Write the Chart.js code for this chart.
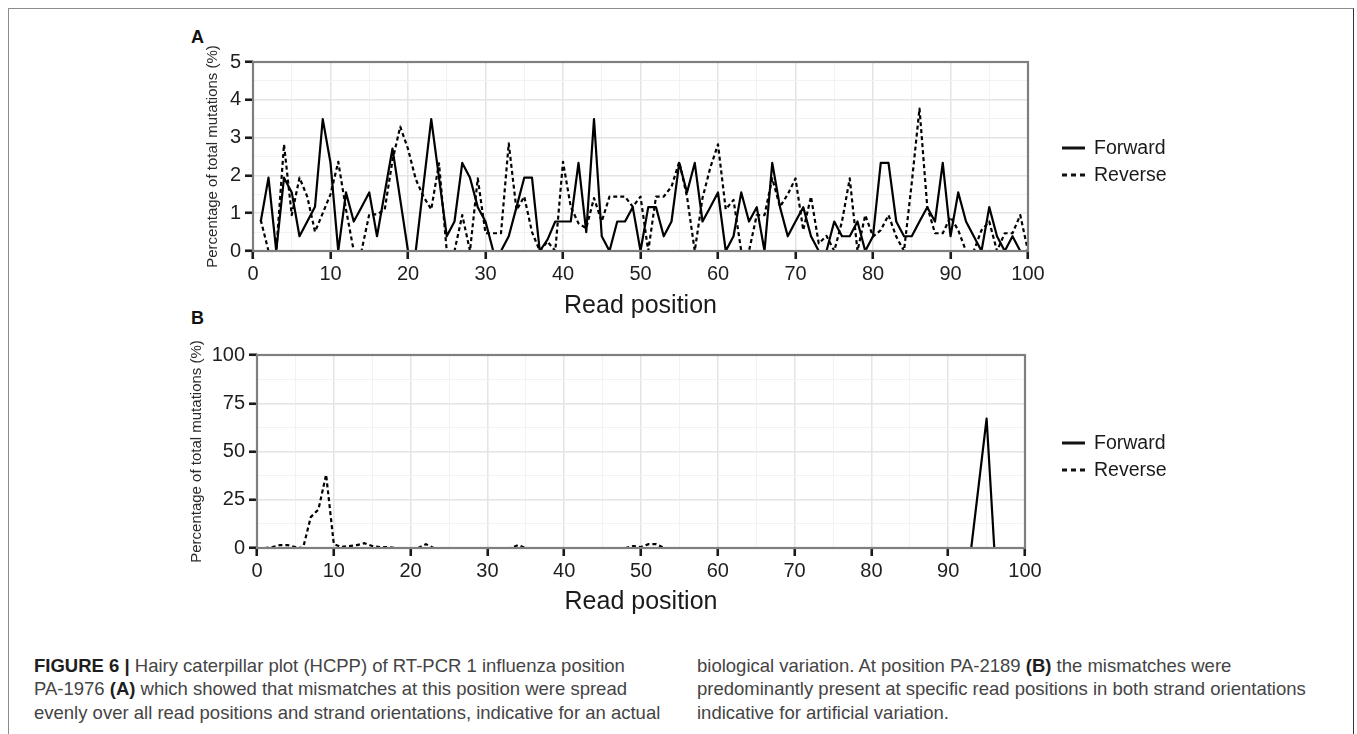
<!DOCTYPE html>
<html>
<head>
<meta charset="utf-8">
<script src="https://cdn.jsdelivr.net/npm/chart.js@4.4.1/dist/chart.umd.min.js"></script>
<style>
html, body { margin: 0; padding: 0; background: #fff; overflow: hidden; }
body { width: 1357px; height: 734px; position: relative; font-family: 'Liberation Sans', Arial, sans-serif; }
#frame { position: absolute; left: 8px; top: 8px; width: 1346px; height: 760px; box-sizing: border-box;
  border: 1.5px solid #8c8c8c; border-right-color: #333; }
canvas { position: absolute; left: 0; }
#chartA { top: 0; }
#chartB { top: 330px; }
.tag { position: absolute; left: 191px; font-weight: bold; font-size: 18px; line-height: 18px; color: #111; }
.cap { position: absolute; font-family: 'Liberation Sans', Arial, sans-serif; font-size: 18.5px;
  line-height: 20px; color: #444; white-space: nowrap; }
.cap b { color: #1e1e1e; }
</style>
</head>
<body>
<div id="frame"></div>
<div class="tag" style="top:28px">A</div>
<div class="tag" style="top:309px">B</div>
<canvas id="chartA" width="1357" height="330"></canvas>
<canvas id="chartB" width="1357" height="300"></canvas>

<div class="cap" style="left:34px;top:655.5px"><b>FIGURE 6 |</b> Hairy caterpillar plot (HCPP) of RT-PCR 1 influenza position</div>
<div class="cap" style="left:34px;top:679px">PA-1976 <b>(A)</b> which showed that mismatches at this position were spread</div>
<div class="cap" style="left:34px;top:702.5px">evenly over all read positions and strand orientations, indicative for an actual</div>
<div class="cap" style="left:697px;top:655.5px">biological variation. At position PA-2189 <b>(B)</b> the mismatches were</div>
<div class="cap" style="left:697px;top:679px">predominantly present at specific read positions in both strand orientations</div>
<div class="cap" style="left:697px;top:702.5px">indicative for artificial variation.</div>

<script>
// read positions 1..100
const positions = [1,2,3,4,5,6,7,8,9,10,11,12,13,14,15,16,17,18,19,20,
  21,22,23,24,25,26,27,28,29,30,31,32,33,34,35,36,37,38,39,40,
  41,42,43,44,45,46,47,48,49,50,51,52,53,54,55,56,57,58,59,60,
  61,62,63,64,65,66,67,68,69,70,71,72,73,74,75,76,77,78,79,80,
  81,82,83,84,85,86,87,88,89,90,91,92,93,94,95,96,97,98,99,100];

// panel A (PA-1976), % of total mutations
const forwardA = [0.78,1.94,0,1.94,1.55,0.39,0.78,1.17,3.49,2.33,
  0,1.55,0.78,1.16,1.55,0.39,1.55,2.71,1.36,0,
  0,1.75,3.49,1.94,0.39,0.78,2.33,1.94,1.16,0.78,
  0,0,0.39,1.16,1.94,1.94,0,0.3,0.78,0.78,
  0.78,2.33,0.5,3.49,0.39,0,0.78,0.78,1.16,0,
  1.16,1.16,0.39,0.78,2.33,1.55,2.33,0.78,1.16,1.55,
  0,0.39,1.55,0.78,1.16,0,2.33,1.16,0.39,0.78,
  1.16,0.39,0,0,0.78,0.39,0.39,0.78,0,0.39,
  2.33,2.33,0.78,0.39,0.39,0.78,1.16,0.78,2.33,0.39,
  1.55,0.78,0.39,0,1.16,0.39,0,0.39,0,0];
const reverseA = [0.82,0,0,2.82,0.95,1.94,1.44,0.51,1.0,1.5,
  2.36,1.1,0,0,0.97,0.97,1.1,2.4,3.29,2.7,
  1.9,1.44,1.1,2.32,0,0,0.95,0,1.92,0.47,
  0.47,0.47,2.85,1.08,1.44,0.5,0,0.25,0,2.36,
  1.17,0.73,0.6,1.4,0.78,1.44,1.44,1.44,1.17,1.44,
  0,1.44,1.44,1.7,2.36,1.44,0,1.4,2.2,2.82,
  1.1,1.35,0,0,0.95,0.95,1.92,1.17,1.5,1.92,
  0.55,1.44,0.2,0.4,0,0.78,1.92,0,0.95,0.38,
  0.55,0.95,0.38,0,1.8,3.77,1.17,0.47,0.47,0.9,
  0.55,0,0,0.55,0.78,0,0.47,0.47,0.95,0];

// panel B (PA-2189)
const forwardB = [0,0,0,0,0,0,0,0,0,0, 0,0,0,0,0,0,0,0,0,0,
  0,0,0,0,0,0,0,0,0,0, 0,0,0,0,0,0,0,0,0,0,
  0,0,0,0,0,0,0,0,0,0, 0,0,0,0,0,0,0,0,0,0,
  0,0,0,0,0,0,0,0,0,0, 0,0,0,0,0,0,0,0,0,0,
  0,0,0,0,0,0,0,0,0,0, 0,0,0,33.5,67,0,0,0,0,0];
const reverseB = [0,0.5,1.5,1.5,0.5,0,16,20,38,2, 0.5,1,1.5,2.5,1,0.5,0.5,0,0,0,
  0,2,0,0,0,0,0,0,0,0, 0,0,0,1.5,0,0,0,0,0,0,
  0,0,0,0,0,0,0,0,1,0.5, 2,2,0,0,0,0,0,0,0,0,
  0,0,0,0,0,0,0,0,0,0, 0,0,0,0,0,0,0,0,0,0,
  0,0,0,0,0,0,0,0,0,0, 0,0,0,0,0,0,0,0,0,0];

const xTickLabels = [0,10,20,30,40,50,60,70,80,90,100];
const yTickLabelsA = [0,1,2,3,4,5];
const yTickLabelsB = [0,25,50,75,100];

const FONT = "'Liberation Sans', Arial, sans-serif";
Chart.defaults.font.family = FONT;
Chart.defaults.color = '#1a1a1a';

const pts = vals => positions.map((p, i) => ({ x: p, y: vals[i] }));

// panel border + side legend
const panelPlugin = {
  id: 'panel',
  afterDatasetsDraw(chart, args, opts) {
    const { ctx, chartArea: a } = chart;
    ctx.save();
    ctx.strokeStyle = '#7f7f7f';
    ctx.lineWidth = 2.2;
    ctx.strokeRect(a.left, a.top, a.right - a.left, a.bottom - a.top);
    ctx.font = '19.5px ' + FONT;
    ctx.textBaseline = 'middle';
    ctx.fillStyle = '#1a1a1a';
    chart.data.datasets.forEach((d, i) => {
      const y = opts.y + i * 27;
      ctx.beginPath();
      ctx.setLineDash(d.borderDash && d.borderDash.length ? [5, 4] : []);
      ctx.lineWidth = 3;
      ctx.strokeStyle = '#111';
      ctx.moveTo(opts.x, y);
      ctx.lineTo(opts.x + 23, y);
      ctx.stroke();
      ctx.fillText(d.label, opts.x + 32, y + 1);
    });
    ctx.restore();
  }
};

function makeChart(id, fwd, rev, yMax, yStep, yLabels, isMajorY, box) {
  const isMajorX = c => c.tick && c.tick.value % 10 === 0;
  return new Chart(document.getElementById(id), {
    type: 'line',
    data: {
      datasets: [
        { label: 'Forward', data: pts(fwd), borderColor: '#000', borderWidth: 2.2, borderDash: [],
          borderJoinStyle: 'round', pointRadius: 0, tension: 0, fill: false },
        { label: 'Reverse', data: pts(rev), borderColor: '#000', borderWidth: 2.2, borderDash: [4, 3],
          borderJoinStyle: 'round', pointRadius: 0, tension: 0, fill: false }
      ]
    },
    options: {
      responsive: false,
      animation: false,
      events: [],
      layout: { padding: box.pad },
      plugins: { legend: { display: false }, tooltip: { enabled: false }, panel: box.legend },
      scales: {
        x: {
          type: 'linear', min: 0, max: 100,
          afterFit: s => { s.height = box.xH; },
          border: { display: false },
          ticks: { stepSize: 5, autoSkip: false, maxRotation: 0, padding: 3, color: '#1e1e1e',
            font: { size: 20 }, callback: v => xTickLabels.includes(v) ? String(v) : '' },
          grid: {
            color: c => isMajorX(c) ? '#e4e4e4' : '#f2f2f2',
            lineWidth: c => isMajorX(c) ? 1.5 : 1,
            tickColor: c => isMajorX(c) ? '#1a1a1a' : 'rgba(0,0,0,0)',
            tickWidth: 2.6, tickLength: 8
          },
          title: { display: true, text: 'Read position', color: '#1a1a1a', font: { size: 25 },
            padding: { top: 0, bottom: 0 } }
        },
        y: {
          type: 'linear', min: 0, max: yMax,
          afterFit: s => { s.width = box.yW; },
          border: { display: false },
          ticks: { stepSize: yStep, autoSkip: false, padding: 4, color: '#1e1e1e',
            font: { size: 20 }, callback: v => yLabels.includes(v) ? String(v) : '' },
          grid: {
            color: c => isMajorY(c) ? '#e4e4e4' : '#f2f2f2',
            lineWidth: c => isMajorY(c) ? 1.5 : 1,
            tickColor: c => isMajorY(c) ? '#1a1a1a' : 'rgba(0,0,0,0)',
            tickWidth: 2.6, tickLength: 8
          },
          title: { display: true, text: 'Percentage of total mutations (%)', color: '#2a2a2a',
            font: { size: 15 }, padding: { top: box.yTitlePad, bottom: 0 } }
        }
      }
    },
    plugins: [panelPlugin]
  });
}

makeChart('chartA', forwardA, reverseA, 5, 0.5, yTickLabelsA,
  c => c.tick && Number.isInteger(c.tick.value),
  { pad: { left: 200, right: 329, top: 62, bottom: 9 }, yW: 53, xH: 70, yTitlePad: 4,
    legend: { x: 1062, y: 148 } });

makeChart('chartB', forwardB, reverseB, 100, 12.5, yTickLabelsB,
  c => c.tick && c.tick.value % 25 === 0,
  { pad: { left: 185, right: 332, top: 25, bottom: 13 }, yW: 72, xH: 69, yTitlePad: 3,
    legend: { x: 1062, y: 113 } });
</script>
</body>
</html>
